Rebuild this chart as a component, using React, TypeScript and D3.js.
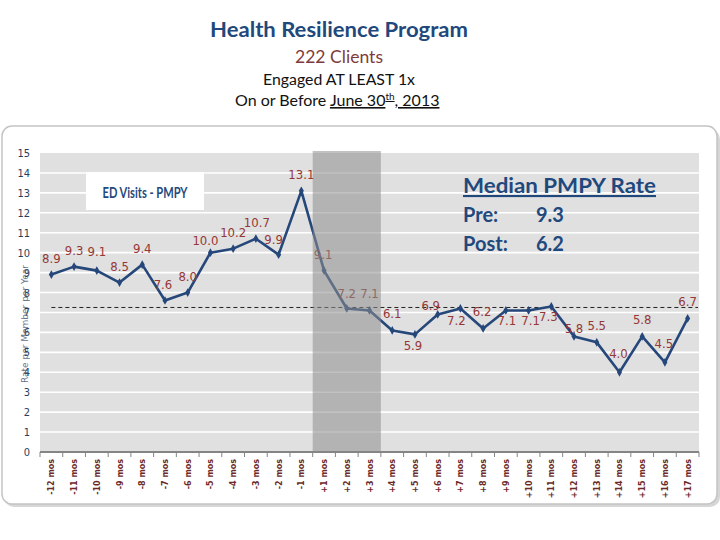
import React from "react";
import * as d3 from "d3";

const categories = [
  "-12 mos", "-11 mos", "-10 mos", "-9 mos", "-8 mos", "-7 mos", "-6 mos", "-5 mos",
  "-4 mos", "-3 mos", "-2 mos", "-1 mos", "+1 mos", "+2 mos", "+3 mos", "+4 mos",
  "+5 mos", "+6 mos", "+7 mos", "+8 mos", "+9 mos", "+10 mos", "+11 mos", "+12 mos",
  "+13 mos", "+14 mos", "+15 mos", "+16 mos", "+17 mos",
];
const edVisits = [
  8.9, 9.3, 9.1, 8.5, 9.4, 7.6, 8.0, 10.0, 10.2, 10.7, 9.9, 13.1,
  9.1, 7.2, 7.1, 6.1, 5.9, 6.9, 7.2, 6.2, 7.1, 7.1, 7.3, 5.8, 5.5, 4.0, 5.8, 4.5, 6.7,
];
// label nudges [dx, dy] relative to the default "above the point" placement
const labelNudges: [number, number][] = [
  [0, 0], [0, 0], [0, -3], [0, 0], [0, 0], [-2, 0], [0, 0], [-5, 4], [0, 0], [1, 0],
  [-5, 1], [0, 0], [-1, 0], [0, 2], [0, 0], [0, 0], [-2, 28], [-7, 8], [-4, 29], [-1, 0],
  [1, 27], [2, 27], [-3, 27], [0, 9], [0, 0], [-1, -2], [0, 0], [-1, -2], [0, 0],
];
const yTicks = d3.range(0, 16);
const referenceLevel = 7.25;
const shadedFrom = "+1 mos";
const shadedTo = "+3 mos";
const medianPre = 9.3;
const medianPost = 6.2;

const NAVY = "#1f497d";
const RED = "#953735";
const NARROW = "'Liberation Sans Narrow', 'DejaVu Sans Condensed', 'Arial Narrow', sans-serif";
const HEAD = "Lato, 'Open Sans', sans-serif";

export default function App() {
  const x = d3.scaleBand<string>().domain(categories).range([40, 699]).padding(0);
  const y = d3.scaleLinear().domain([0, 15]).range([452, 153]);
  const cx = (c: string) => (x(c) ?? 0) + x.bandwidth() / 2;
  const pts = categories.map((c, i) => ({ c, v: edVisits[i], i }));
  const line = d3.line<{ c: string; v: number }>().x((d) => cx(d.c)).y((d) => y(d.v));
  const diamond = d3.symbol().type(d3.symbolDiamond).size(22)() || "";
  const shadeX0 = x(shadedFrom) ?? 0;
  const shadeX1 = (x(shadedTo) ?? 0) + x.bandwidth();

  return (
    <svg width={720} height={540} style={{ position: "absolute", left: 0, top: 0, background: "#fff" }}>
      {/* Heading */}
      <text x={339} y={37} textAnchor="middle" fontFamily={HEAD} fontWeight={700} fontSize={20} fill={NAVY} textLength={258} lengthAdjust="spacingAndGlyphs">Health Resilience Program</text>
      <text x={339} y={63} textAnchor="middle" fontFamily={HEAD} fontSize={18} fill="#7f3b3b" textLength={88} lengthAdjust="spacingAndGlyphs">222 Clients</text>
      <text x={339} y={85} textAnchor="middle" fontFamily={HEAD} fontSize={15.5} fill="#111" textLength={152} lengthAdjust="spacingAndGlyphs">Engaged AT LEAST 1x</text>
      <text x={235} y={106} fontFamily={HEAD} fontSize={16} fill="#111">
        On or Before <tspan textDecoration="underline">June 30</tspan>
        <tspan dy={-6} fontSize={10} textDecoration="underline">th</tspan>
        <tspan dy={6} textDecoration="underline">, 2013</tspan>
      </text>

      {/* Outer frame */}
      <rect x={4} y={129} width={716} height={378} rx={10} fill="#d6d6d6" />
      <rect x={2} y={126} width={715} height={378} rx={10} fill="#fff" stroke="#c4c4c4" strokeWidth={1.5} />

      {/* Plot background + grid */}
      <rect x={40} y={y(15)} width={659} height={y(0) - y(15)} fill="#e0e0e0" />
      {yTicks.slice(1, 15).map((t) => (
        <line key={t} x1={40} x2={699} y1={y(t)} y2={y(t)} stroke="#fff" strokeWidth={1.6} />
      ))}

      {/* legend box */}
      <rect x={86} y={172} width={118} height={38} fill="#fff" />
      <text x={145} y={198} textAnchor="middle" fontFamily={HEAD} fontWeight={700} fontSize={16} fill={NAVY} textLength={85} lengthAdjust="spacingAndGlyphs">ED Visits - PMPY</text>

      {/* reference dashed line */}
      <line x1={cx(categories[0])} x2={698} y1={y(referenceLevel)} y2={y(referenceLevel)} stroke="#222" strokeWidth={1} strokeDasharray="4,3" />

      {/* series */}
      <path d={line(pts) || ""} fill="none" stroke="#25477a" strokeWidth={2.6} strokeLinejoin="round" />
      {pts.map((d) => (
        <path key={d.c} d={diamond} transform={`translate(${cx(d.c)},${y(d.v)})`} fill="#25477a" />
      ))}
      {pts.map((d) => (
        <text key={d.c} x={cx(d.c) + labelNudges[d.i][0]} y={y(d.v) - 12 + labelNudges[d.i][1]} textAnchor="middle" fontFamily={NARROW} fontStretch="condensed" fontSize={13} fill={RED}>
          {d.v.toFixed(1)}
        </text>
      ))}

      {/* shaded intervention window */}
      <rect x={shadeX0} y={151} width={shadeX1 - shadeX0} height={y(0) - 151} fill="#8e8e8e" opacity={0.55} />

      {/* x axis */}
      <line x1={40} x2={699} y1={y(0)} y2={y(0)} stroke="#858585" strokeWidth={2} />
      {categories.map((c) => (
        <line key={c} x1={x(c) ?? 0} x2={x(c) ?? 0} y1={y(0)} y2={y(0) + 5} stroke="#858585" strokeWidth={1} />
      ))}
      <line x1={699} x2={699} y1={y(0)} y2={y(0) + 5} stroke="#858585" strokeWidth={1} />
      {categories.map((c) => (
        <text key={c} transform={`translate(${cx(c) + 3},${y(0) + 7}) rotate(-90)`} textAnchor="end" fontFamily="'DejaVu Sans', Verdana, sans-serif" fontWeight={700} fontSize={8} fill="#6b2a28">
          {c}
        </text>
      ))}

      {/* y axis */}
      {yTicks.map((t) => (
        <text key={t} x={30} y={y(t) + 4} textAnchor="end" fontFamily={NARROW} fontStretch="condensed" fontSize={11} fill="#2b3f5c">
          {t}
        </text>
      ))}
      <text transform="translate(28,324) rotate(-90)" textAnchor="middle" fontFamily="'DejaVu Sans', sans-serif" fontSize={9} fill="#4a5a72" opacity={0.85}>
        Rate per Member per Year
      </text>

      {/* median annotation */}
      <text x={463} y={193} fontFamily={HEAD} fontWeight={700} fontSize={21} fill={NAVY} textDecoration="underline" textLength={193} lengthAdjust="spacingAndGlyphs">Median PMPY Rate</text>
      <text x={463} y={222} fontFamily={HEAD} fontWeight={700} fontSize={20} fill={NAVY}>Pre:</text>
      <text x={536} y={222} fontFamily={HEAD} fontWeight={700} fontSize={20} fill={NAVY}>{medianPre.toFixed(1)}</text>
      <text x={463} y={251} fontFamily={HEAD} fontWeight={700} fontSize={20} fill={NAVY}>Post:</text>
      <text x={536} y={251} fontFamily={HEAD} fontWeight={700} fontSize={20} fill={NAVY}>{medianPost.toFixed(1)}</text>
    </svg>
  );
}
